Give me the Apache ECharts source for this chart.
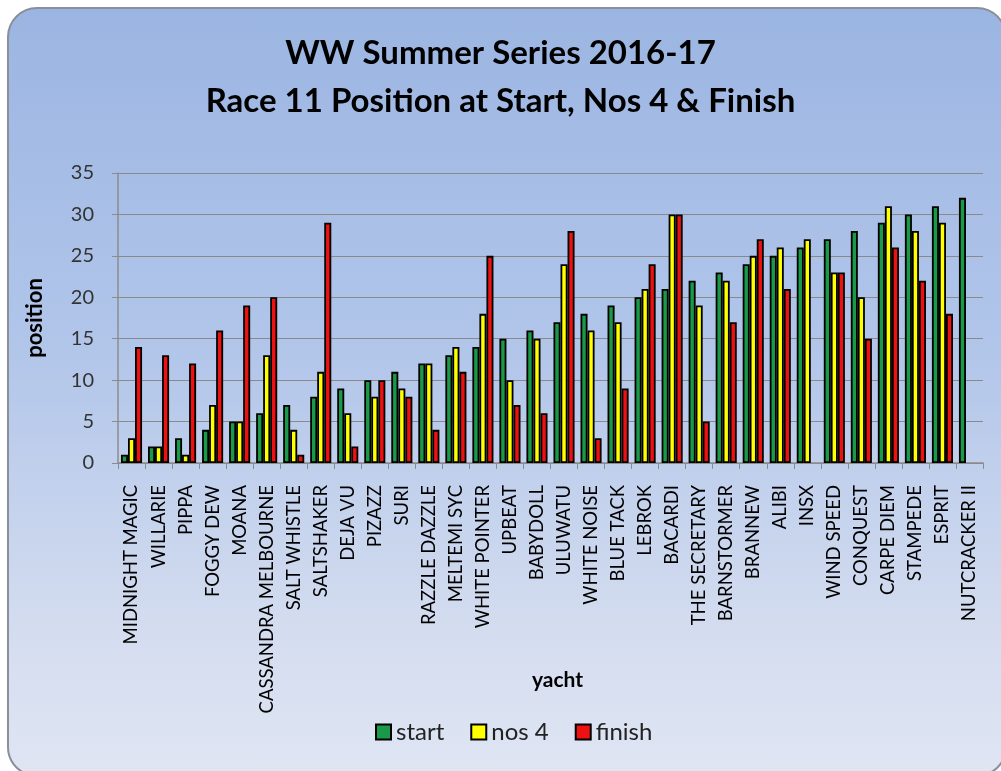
<!DOCTYPE html>
<html>
<head>
<meta charset="utf-8">
<script src="https://cdn.jsdelivr.net/npm/echarts@6/dist/echarts.min.js"></script>
<style>
html,body{margin:0;padding:0;width:1001px;height:771px;overflow:hidden;background:#ffffff;}
#frame{position:absolute;left:7px;top:7px;width:1000px;height:770px;box-sizing:border-box;border:2px solid #8a8f99;border-radius:30px;
background:linear-gradient(to bottom,#9bb5e2 0%,#b2c6ea 45%,#d3dcef 80%,#dfe5f3 100%);}
#chart{position:absolute;left:0;top:0;width:1001px;height:771px;}
</style>
</head>
<body>
<div id="frame"></div>
<div id="chart"></div>
<script>
const categories = ["MIDNIGHT MAGIC","WILLARIE","PIPPA","FOGGY DEW","MOANA","CASSANDRA MELBOURNE","SALT WHISTLE","SALTSHAKER","DEJA VU","PIZAZZ","SURI","RAZZLE DAZZLE","MELTEMI SYC","WHITE POINTER","UPBEAT","BABYDOLL","ULUWATU","WHITE NOISE","BLUE TACK","LEBROK","BACARDI","THE SECRETARY","BARNSTORMER","BRANNEW","ALIBI","INSX","WIND SPEED","CONQUEST","CARPE DIEM","STAMPEDE","ESPRIT","NUTCRACKER II"];
const startPos = [1,2,3,4,5,6,7,8,9,10,11,12,13,14,15,16,17,18,19,20,21,22,23,24,25,26,27,28,29,30,31,32];
const nos4Pos = [3,2,1,7,5,13,4,11,6,8,9,12,14,18,10,15,24,16,17,21,30,19,22,25,26,27,23,20,31,28,29,null];
const finishPos = [14,13,12,16,19,20,1,29,2,10,8,4,11,25,7,6,28,3,9,24,30,5,17,27,21,null,23,15,26,22,18,null];
const yTicks = [0,5,10,15,20,25,30,35];

const font = 'Lato, "Open Sans", sans-serif';
const chart = echarts.init(document.getElementById('chart'));
const barStyle = c => ({color:c, borderColor:'#000', borderWidth:1.8});
chart.setOption({
  backgroundColor:'transparent',
  animation:false,
  title:{
    text:'WW Summer Series 2016-17\nRace 11 Position at Start, Nos 4 & Finish',
    left:'center', top:24,
    textStyle:{fontFamily:font, fontWeight:'bold', fontSize:33, color:'#000', lineHeight:48}
  },
  legend:{
    bottom:22, left:370,
    itemWidth:15, itemHeight:15, itemGap:26,
    icon:'rect',
    itemStyle:{borderColor:'#000', borderWidth:2},
    textStyle:{fontFamily:font, fontSize:24, color:'#222'},
    data:['start','nos 4','finish']
  },
  grid:{left:118, right:18, top:173, bottom:308, containLabel:false},
  xAxis:{
    type:'category', data:categories,
    name:'yacht', nameLocation:'middle', nameGap:207, nameMoveOverlap:false,
    nameTextStyle:{fontFamily:font, fontWeight:'bold', fontSize:21, color:'#000', padding:[0,0,0,14]},
    axisLine:{show:true, lineStyle:{color:'#8c8c8c', width:1.5}},
    axisTick:{show:true, length:6, lineStyle:{color:'#8c8c8c'}},
    axisLabel:{rotate:90, interval:0, margin:22, fontFamily:font, fontSize:18.5, color:'#000'}
  },
  yAxis:{
    type:'value', min:0, max:35, interval:5,
    name:'position', nameLocation:'middle', nameGap:72, nameMoveOverlap:false,
    nameTextStyle:{fontFamily:font, fontWeight:'bold', fontSize:22, color:'#000'},
    axisLine:{show:true, lineStyle:{color:'#8c8c8c', width:1.5}},
    axisTick:{show:true, length:6, lineStyle:{color:'#8c8c8c'}},
    axisLabel:{fontFamily:font, fontSize:20, color:'#333', margin:24,
      formatter:v => yTicks.includes(v) ? String(v) : ''},
    splitLine:{show:true, lineStyle:{color:'#8a8a8a', width:1.2}}
  },
  series:[
    {name:'start', type:'bar', data:startPos, barGap:'0%', barCategoryGap:'22%', itemStyle:barStyle('#1a9a48')},
    {name:'nos 4', type:'bar', data:nos4Pos, itemStyle:barStyle('#ffff00')},
    {name:'finish', type:'bar', data:finishPos, itemStyle:barStyle('#ee1111')}
  ]
});
</script>
</body>
</html>
